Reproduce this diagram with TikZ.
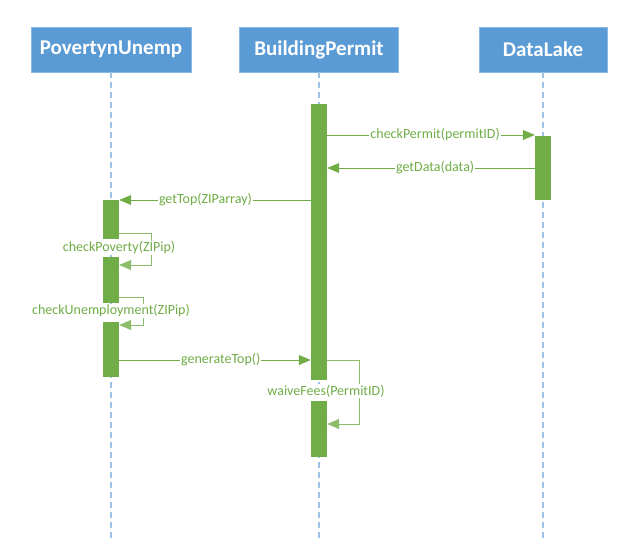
\documentclass[tikz,border=0pt]{standalone}
\usepackage{fontspec}
\setmainfont{Carlito}
\usetikzlibrary{arrows.meta}
\definecolor{headblue}{HTML}{5B9BD5}
\definecolor{lineblue}{HTML}{9DC3E6}
\definecolor{actgreen}{HTML}{70AD47}
\begin{document}
\begin{tikzpicture}[
        % Define styles
        x=1pt, y=-1pt,
        head/.style={rectangle, fill=headblue, draw=headblue!70!white, text=white,
            font=\fontsize{21}{24}\selectfont\bfseries, minimum height=45pt, inner sep=0pt},
        lifeline/.style={lineblue, line width=1.5pt, dash pattern=on 6pt off 4pt},
        act/.style={rectangle, fill=actgreen, inner sep=0pt, minimum width=16pt, anchor=north},
        msg/.style={actgreen, line width=0.8pt, -{Triangle[length=12pt, width=10pt]}},
        selfmsg/.style={actgreen!80!white, line width=0.7pt, -{Triangle[length=12pt, width=10pt]}},
        msglabel/.style={fill=white, text=actgreen, inner sep=1pt, font=\fontsize{14}{16}\selectfont}
    ]
    \useasboundingbox (0,0) rectangle (627,553);

        % --- Headers ---
        \node[head, minimum width=160pt] (pov) at (111,49.5) {PovertynUnemp};
        \node[head, minimum width=159pt] (bp) at (319,49.5) {BuildingPermit};
        \node[head, minimum width=128pt] (dl) at (543,49.5) {DataLake};

        % --- Lifelines ---
        \coordinate (pov_end) at (111,538);
        \coordinate (bp_end) at (319,538);
        \coordinate (dl_end) at (543,538);
        \draw[lifeline] (pov.south) -- (pov_end);
        \draw[lifeline] (bp.south) -- (bp_end);
        \draw[lifeline] (dl.south) -- (dl_end);

        % --- Activations ---
        \node[act, minimum height=276pt] (bp_act1) at (319,104) {};
        \node[act, minimum height=56pt] (bp_act2) at (319,401) {};
        \node[act, minimum height=64pt] (dl_act) at (543,136) {};
        \node[act, minimum height=39pt] (pov_act1) at (111,200) {};
        \node[act, minimum height=46pt] (pov_act2) at (111,257) {};
        \node[act, minimum height=55pt] (pov_act3) at (111,322) {};

        % --- Message levels ---
        \coordinate (chk_y) at (0,135);
        \coordinate (data_y) at (0,168);
        \coordinate (top_y) at (0,200);
        \coordinate (gen_y) at (0,360);

        % Self call corners
        \coordinate (pov_loop1_top) at (151,233);
        \coordinate (pov_loop1_bot) at (151,265);
        \coordinate (pov_loop2_top) at (143,297);
        \coordinate (pov_loop2_bot) at (143,325);
        \coordinate (bp_loop_top) at (359,360);
        \coordinate (bp_loop_bot) at (359,424);

        % --- Draw Messages ---
        \draw[msg] (bp_act1.east |- chk_y) -- (dl_act.west |- chk_y)
            node[msglabel, pos=0.52] {checkPermit(permitID)};
        \draw[msg] (dl_act.west |- data_y) -- (bp_act1.east |- data_y)
            node[msglabel, pos=0.48] {getData(data)};
        \draw[msg] (bp_act1.west |- top_y) -- (pov_act1.east |- top_y)
            node[msglabel, pos=0.55] {getTop(ZIParray)};
        \draw[msg] (pov_act3.east |- gen_y) -- (bp_act1.west |- gen_y)
            node[msglabel, pos=0.53] {generateTop()};

        % Self calls
        \draw[selfmsg] (pov_act1.east |- pov_loop1_top) -- (pov_loop1_top)
            -- (pov_loop1_bot) -- (pov_act2.east |- pov_loop1_bot);
        \draw[selfmsg] (pov_act2.east |- pov_loop2_top) -- (pov_loop2_top)
            -- (pov_loop2_bot) -- (pov_act3.east |- pov_loop2_bot);
        \draw[selfmsg] (bp_act1.east |- bp_loop_top) -- (bp_loop_top)
            -- (bp_loop_bot) -- (bp_act2.east |- bp_loop_bot);

        % --- Self call labels ---
        \node[msglabel] (lbl_poverty) at (119,248) {checkPoverty(ZIPip)};
        \node[msglabel] (lbl_unemp) at (111,311) {checkUnemployment(ZIPip)};
        \node[msglabel] (lbl_waive) at (326,391) {waiveFees(PermitID)};

    \end{tikzpicture}
\end{document}
